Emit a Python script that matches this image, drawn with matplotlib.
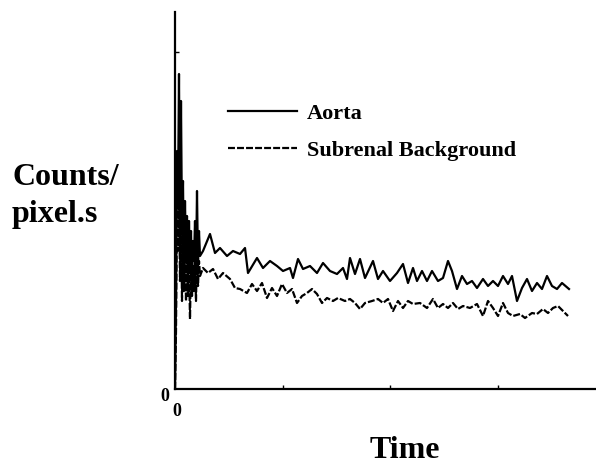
import matplotlib
matplotlib.use("Agg")
import matplotlib.pyplot as plt

plt.rcParams['font.family'] = ['Liberation Serif', 'DejaVu Serif']
plt.rcParams['lines.scale_dashes'] = False

# ---- data (time and counts in arbitrary units) ----
aorta_t = [0, 1, 2, 3, 4, 5, 6, 7, 8, 9, 10, 11, 12, 13, 14, 15, 16, 17, 18, 19,
           20, 21, 22, 23, 24, 25,
           28, 35, 40, 45, 52, 58, 65, 70, 73, 82,
           88, 95, 102, 108, 115, 118, 123, 128, 135, 142,
           148, 155, 162, 168, 172, 175, 180, 185, 190, 198,
           203, 208, 215, 222, 228, 233, 238, 242, 247, 252,
           257, 263, 268, 273, 277, 282, 287, 292, 297, 302,
           308, 313, 318, 323, 328, 333, 337, 342, 347, 352,
           357, 362, 367, 372, 377, 382, 387, 394]
aorta_counts = [0, 88, 238, 188, 315, 138, 288, 158, 208, 108, 188, 128, 173, 98,
                168, 118, 158, 108, 148, 128, 168, 118, 198, 123, 158, 133,
                138, 155, 136, 141, 133, 138, 135, 141, 116, 131,
                121, 128, 123, 118, 121, 111, 130, 120, 123, 116,
                126, 118, 115, 121, 110, 131, 115, 130, 111, 128,
                110, 118, 108, 116, 125, 106, 121, 108, 118, 108,
                118, 108, 111, 128, 118, 100, 113, 105, 108, 101,
                110, 103, 108, 103, 113, 105, 113, 88, 101, 110,
                98, 106, 100, 113, 103, 100, 106, 100]

bg_t = [0, 1, 2, 3, 4, 5, 6, 7, 8, 9, 10, 11, 12, 13, 14, 15, 16, 17, 18, 19,
        20, 21, 22, 23, 24, 25,
        28, 33, 38, 43, 48, 55, 60, 65, 72, 77,
        82, 87, 92, 97, 102, 107, 112, 117, 122, 127,
        132, 137, 142, 147, 152, 158, 163, 170, 175, 180,
        185, 190, 197, 203, 208, 213, 218, 223, 228, 233,
        238, 245, 252, 258, 263, 268, 273, 278, 283, 288,
        295, 302, 308, 313, 318, 323, 328, 333, 338, 345,
        350, 357, 362, 368, 373, 378, 383, 388, 393]
bg_counts = [0, 58, 188, 138, 208, 108, 188, 88, 168, 98, 148, 88, 138, 93,
             128, 70, 133, 93, 123, 98, 128, 88, 148, 103, 128, 113,
             121, 116, 120, 110, 116, 110, 101, 100, 96, 105,
             98, 106, 91, 101, 93, 105, 96, 100, 86, 93,
             96, 100, 95, 86, 91, 88, 91, 88, 90, 86,
             80, 86, 88, 90, 86, 90, 78, 88, 81, 88,
             85, 86, 81, 90, 81, 85, 81, 86, 80, 83,
             81, 85, 73, 88, 81, 73, 86, 76, 73, 75,
             71, 76, 75, 80, 76, 81, 83, 78, 73]

series_labels = ["Aorta", "Subrenal Background"]
x_minor_ticks = [108, 215, 323]
y_minor_ticks = [337]

W, H = 596, 465
fig = plt.figure(figsize=(W / 100, H / 100), dpi=100)
ax = fig.add_axes([175 / W, (H - 389) / H, (W - 175) / W, (389 - 12) / H])

ax.plot(aorta_t, aorta_counts, color='black', lw=1.6, label=series_labels[0])
ax.plot(bg_t, bg_counts, color='black', lw=1.6, linestyle=(0, (5, 1.5)),
        label=series_labels[1])

ax.set_xlim(0, 421)
ax.set_ylim(0, 377)
for s in ['top', 'right']:
    ax.spines[s].set_visible(False)
for s in ['left', 'bottom']:
    ax.spines[s].set_linewidth(1.6)

ax.set_xticks([])
ax.set_yticks([])
ax.set_xticks(x_minor_ticks, minor=True)
ax.set_yticks(y_minor_ticks, minor=True)
ax.tick_params(which='minor', direction='in', length=3, width=1, labelbottom=False, labelleft=False)

ax.annotate('0', xy=(0, 0), xycoords='axes fraction', xytext=(-10, -7),
            textcoords='offset pixels', ha='center', va='center', fontsize=13, fontweight='bold')
ax.annotate('0', xy=(0, 0), xycoords='axes fraction', xytext=(2, -22),
            textcoords='offset pixels', ha='center', va='center', fontsize=13, fontweight='bold')

leg = ax.legend(loc='upper left', bbox_to_anchor=(228 / W, 1 - 103 / H),
                bbox_transform=fig.transFigure, frameon=False,
                prop={'size': 16, 'weight': 'bold'},
                handlelength=3.1, handletextpad=0.45, borderpad=0, borderaxespad=0,
                labelspacing=0.75)

fig.text(12 / W, 1 - 185 / H, 'Counts/', fontsize=23, fontweight='bold', ha='left', va='baseline')
fig.text(12 / W, 1 - 222 / H, 'pixel.s', fontsize=23, fontweight='bold', ha='left', va='baseline')
fig.text(405 / W, 1 - 458 / H, 'Time', fontsize=23, fontweight='bold', ha='center', va='baseline')

fig.savefig('out.png', dpi=100)
